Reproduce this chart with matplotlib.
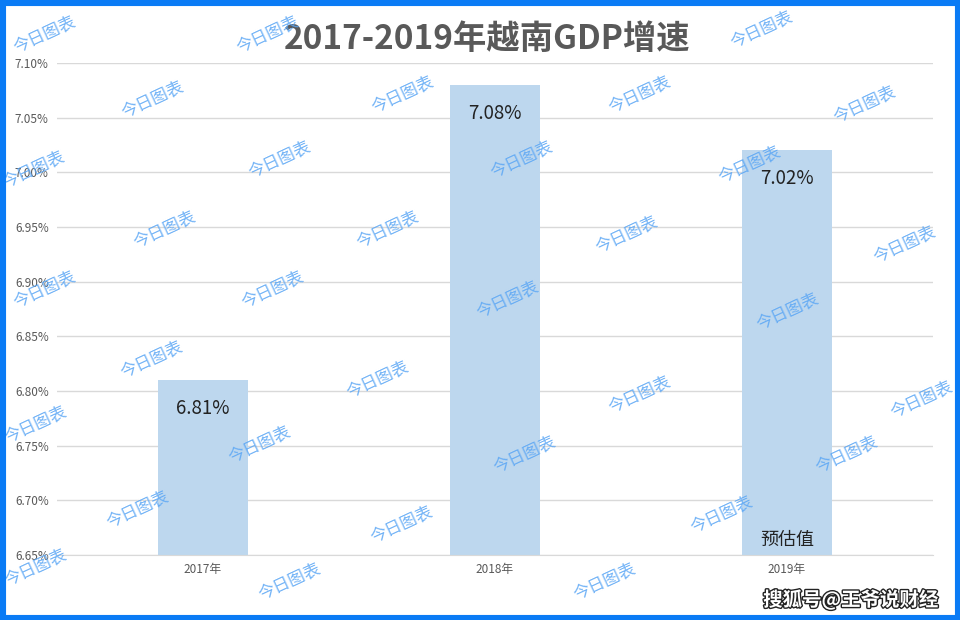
import numpy as np
import matplotlib
matplotlib.use('Agg')
import matplotlib.pyplot as plt
import matplotlib.patheffects as pe
from matplotlib.patches import Rectangle

plt.rcParams['font.family'] = ['Noto Sans CJK SC', 'DejaVu Sans']

years = ['2017年', '2018年', '2019年']
growth = [6.81, 7.08, 7.02]
labels = ['6.81%', '7.08%', '7.02%']
yticks = np.arange(6.65, 7.101, 0.05)

# watermark spots (figure pixels from top-left)
wm_xy = [(45, 35), (268, 35), (762, 30), (153, 100), (403, 95), (640, 95), (865, 105),
         (34, 170), (280, 160), (522, 160), (750, 165), (165, 230), (388, 230), (627, 235),
         (905, 245), (45, 290), (273, 290), (508, 300), (788, 312), (152, 360), (378, 380),
         (640, 395), (922, 400), (36, 425), (260, 445), (525, 455), (847, 455), (138, 510),
         (402, 525), (722, 515), (36, 568), (290, 582), (605, 582)]

W, H = 960, 620
fig = plt.figure(figsize=(9.6, 6.2), dpi=100)
ax = fig.add_axes([57 / W, 65 / H, 876 / W, 492 / H])

x = np.arange(len(years))
ax.bar(x, growth, width=0.31, color='#BDD7EE', zorder=2)
for i in range(len(years)):
    ax.text(x[i], growth[i] - 0.026, labels[i], ha='center', va='center',
            fontsize=13.5, color='#222222', zorder=3)
ax.text(x[2], 6.65 + 0.014, '预估值', ha='center', va='center', fontsize=13,
        color='#222222', zorder=3)

ax.set_xlim(-0.5, 2.5)
ax.set_ylim(6.65, 7.10)
ax.set_yticks(yticks)
ax.set_yticklabels(['%.2f%%' % v for v in yticks], fontsize=8.5, color='#595959')
ax.set_xticks(x)
ax.set_xticklabels(years, fontsize=8.5, color='#595959')
ax.tick_params(length=0, pad=6)
ax.yaxis.grid(True, color='#D9D9D9', lw=1, zorder=0)
for s in ['left', 'right', 'top']:
    ax.spines[s].set_visible(False)
ax.spines['bottom'].set_color('#D9D9D9')

fig.text(487 / W, 1 - 39 / H, '2017-2019年越南GDP增速', ha='center', va='center',
         fontsize=24, fontweight='bold', color='#595959')

for (px, py) in wm_xy:
    fig.text(px / W, 1 - py / H, '今日图表', ha='center', va='center', fontsize=12,
             color='#5AA6F5', alpha=0.85, rotation=25, zorder=5)

fig.text(851 / W, 1 - 600 / H, '搜狐号@王爷说财经', ha='center', va='center', fontsize=14,
         fontweight='bold', color='white', zorder=6,
         path_effects=[pe.withStroke(linewidth=2, foreground='#222222')])

fig.patches.append(Rectangle((0, 0), 1, 1, transform=fig.transFigure, fill=False,
                             edgecolor='#0A7BF5', lw=8, zorder=10))

fig.savefig('out.png', dpi=100)
